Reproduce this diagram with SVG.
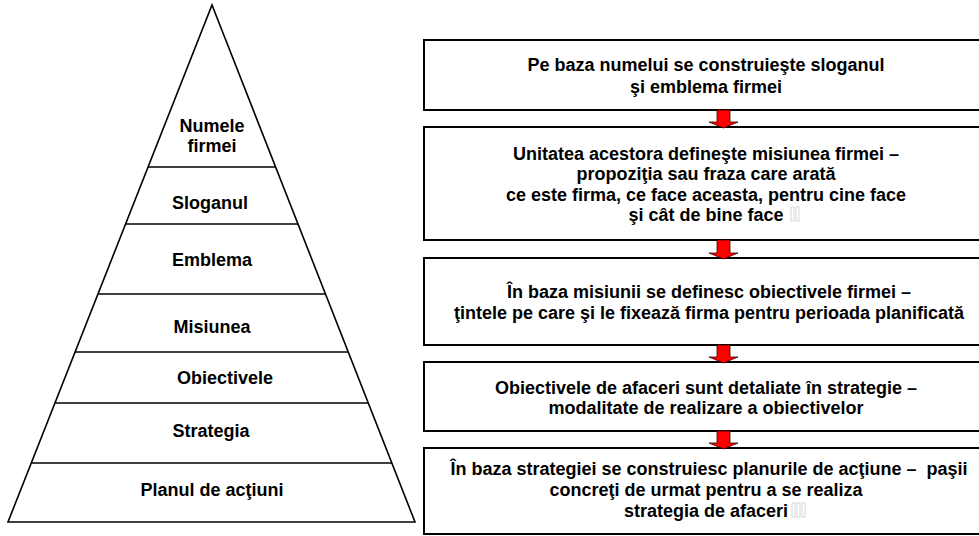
<svg xmlns="http://www.w3.org/2000/svg" width="979" height="536" viewBox="0 0 979 536">
<style>
  .t { font-family: "Liberation Sans", Arial, sans-serif; font-weight: bold; font-size: 18px; fill: #000; text-anchor: middle; }
  .box { fill: #fff; stroke: #000; stroke-width: 2; }
  .lvl { stroke: #000; stroke-width: 1.5; }
  .arr { fill: #ff0000; stroke: #3a0000; stroke-width: 0.8; stroke-linejoin: miter; }
  .tofu { fill: none; stroke: #d8d8d8; stroke-width: 1; }
</style>
<rect width="979" height="536" fill="#fff"/>

<g id="pyramid">
  <polygon points="212,5 415,522 8,522" fill="#fff" stroke="#000" stroke-width="1.6"/>
  <line class="lvl" x1="148" y1="167" x2="276" y2="167"/>
  <line class="lvl" x1="126" y1="224" x2="298" y2="224"/>
  <line class="lvl" x1="98" y1="294" x2="325" y2="294"/>
  <line class="lvl" x1="75" y1="352" x2="348" y2="352"/>
  <line class="lvl" x1="55" y1="403" x2="368" y2="403"/>
  <line class="lvl" x1="31" y1="463" x2="392" y2="463"/>
</g>
<g id="lvl-numele"><text class="t" x="212" y="132">Numele</text><text class="t" x="212" y="152">firmei</text></g>
<g id="lvl-sloganul"><text class="t" x="210" y="209">Sloganul</text></g>
<g id="lvl-emblema"><text class="t" x="212" y="266">Emblema</text></g>
<g id="lvl-misiunea"><text class="t" x="212" y="333">Misiunea</text></g>
<g id="lvl-obiectivele"><text class="t" x="225" y="384">Obiectivele</text></g>
<g id="lvl-strategia"><text class="t" x="211" y="437">Strategia</text></g>
<g id="lvl-planul"><text class="t" x="212" y="496">Planul de acţiuni</text></g>

<g id="box1">
  <rect class="box" x="424" y="40" width="580" height="70"/>
  <text class="t" x="706" y="71">Pe baza numelui se construieşte sloganul</text>
  <text class="t" x="706" y="93">şi emblema firmei</text>
</g>
<g id="box2">
  <rect class="box" x="424" y="127" width="580" height="113"/>
  <text class="t" x="706" y="159.5">Unitatea acestora defineşte misiunea firmei –</text>
  <text class="t" x="706" y="180">propoziţia sau fraza care arată</text>
  <text class="t" x="706" y="200.5">ce este firma, ce face aceasta, pentru cine face</text>
  <text class="t" x="706" y="221">şi cât de bine face</text>
  <rect class="tofu" x="791" y="207" width="3" height="14"/>
  <rect class="tofu" x="796" y="207" width="3" height="14"/>
</g>
<g id="box3">
  <rect class="box" x="424" y="258" width="580" height="87"/>
  <text class="t" x="709" y="297.5">În baza misiunii se definesc obiectivele firmei –</text>
  <text class="t" x="709" y="318.5">ţintele pe care şi le fixează firma pentru perioada planificată</text>
</g>
<g id="box4">
  <rect class="box" x="424" y="362" width="580" height="69"/>
  <text class="t" x="706" y="394">Obiectivele de afaceri sunt detaliate în strategie –</text>
  <text class="t" x="706" y="414">modalitate de realizare a obiectivelor</text>
</g>
<g id="box5">
  <rect class="box" x="424" y="448" width="580" height="86"/>
  <text class="t" x="709" y="475" xml:space="preserve">În baza strategiei se construiesc planurile de acţiune –  paşii</text>
  <text class="t" x="706" y="496">concreţi de urmat pentru a se realiza</text>
  <text class="t" x="706" y="517">strategia de afaceri</text>
  <rect class="tofu" x="792" y="503" width="3" height="14"/>
  <rect class="tofu" x="797" y="503" width="3" height="14"/>
  <rect class="tofu" x="802" y="503" width="3" height="14"/>
</g>

<g id="connectors">
  <polygon class="arr" points="717,110 730,110 730,122 738,122 723.5,128 709,122 717,122"/>
  <polygon class="arr" points="717,240 730,240 730,253 738,253 723.5,259 709,253 717,253"/>
  <polygon class="arr" points="717,345 730,345 730,357 738,357 723.5,363 709,357 717,357"/>
  <polygon class="arr" points="717,431 730,431 730,443 738,443 723.5,449 709,443 717,443"/>
</g>
</svg>
